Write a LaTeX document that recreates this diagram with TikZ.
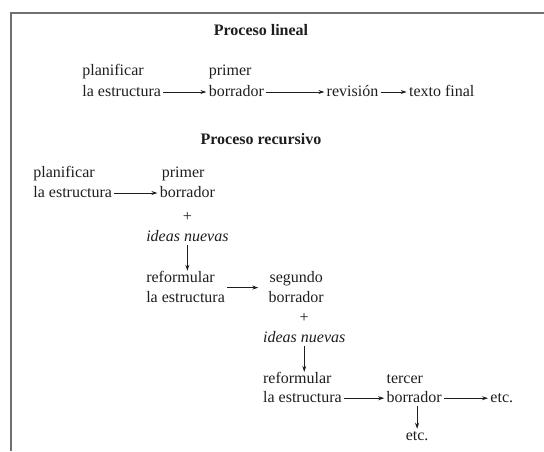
\documentclass[tikz,border=0pt]{standalone}
\usepackage{fontspec}
\setmainfont{Liberation Serif}
\usetikzlibrary{positioning,arrows.meta}
\definecolor{inkgray}{HTML}{1E1E1E}
\definecolor{framegray}{HTML}{707070}
\begin{document}
\begin{tikzpicture}[x=1pt, y=1pt, >={Stealth[length=6pt,width=4pt]}, line width=0.8pt, draw=inkgray]
        \tikzstyle{word}=[inner xsep=2pt, inner ysep=0pt, text height=11.2pt, text depth=3.2pt, text=inkgray, font=\fontsize{16}{19}\selectfont];
        \tikzstyle{heading}=[word, font=\fontsize{16}{19}\selectfont\bfseries];
        \tikzstyle{idea}=[word, font=\fontsize{16}{19}\selectfont\itshape];

        \useasboundingbox (0,0) rectangle (544,-451);
        \draw[framegray, line width=1.5pt] (544,-13) -- (11,-13) -- (11,-451);

        % lineal
        \node[heading] (titlelin) at (261,-31) {Proceso lineal};
        \node[word, anchor=west] (est1) at (80,-92) {la estructura};
        \node[word, above=5.6pt of est1.north west, anchor=south west] (plan1) {planificar};
        \node[word, right=43pt of est1] (borr1) {borrador};
        \node[word, above=5.6pt of borr1.north west, anchor=south west] (prim1) {primer};
        \node[word, right=58pt of borr1] (rev) {revisión};
        \node[word, right=26pt of rev] (final) {texto final};

        \draw[->] (est1) -- (borr1);
        \draw[->] (borr1) -- (rev);
        \draw[->] (rev) -- (final);

        % recursivo
        \node[heading] (titlerec) at (261,-140) {Proceso recursivo};
        \node[word, anchor=west] (est2) at (31,-193) {la estructura};
        \node[word, above=4.6pt of est2.north west, anchor=south west] (plan2) {planificar};
        \node[word, right=43pt of est2] (borr2) {borrador};
        \node[word, above=4.6pt of borr2.north west, anchor=south west, xshift=2pt] (prim2) {primer};
        \node[word, below=9.6pt of borr2] (plus1) {+};
        \node[idea, below=4.6pt of plus1] (idea1) {ideas nuevas};
        \node[word, below=25.6pt of idea1.south west, anchor=north west] (ref1) {reformular};
        \node[word, below=4.6pt of ref1.south west, anchor=north west] (est3) {la estructura};
        \node[word, right=39pt of est3] (borr3) {borrador};
        \node[word, above=4.6pt of borr3] (seg) {segundo};
        \node[word, below=5pt of borr3, xshift=8pt] (plus2) {+};
        \node[idea, below=5pt of plus2] (idea2) {ideas nuevas};
        \node[word, below=25.6pt of idea2.south west, anchor=north west] (ref2) {reformular};
        \node[word, below=3.6pt of ref2.south west, anchor=north west] (est4) {la estructura};
        \node[word, right=40pt of est4] (borr4) {borrador};
        \node[word, above=3.6pt of borr4.north west, anchor=south west] (terc) {tercer};
        \node[word, right=44pt of borr4] (etc1) {etc.};
        \node[word, below=23pt of borr4, xshift=3pt] (etc2) {etc.};

        \draw[->] (est2) -- (borr2);
        \draw[->] (idea1) -- (idea1 |- ref1.north);
        \draw[->] ([yshift=3pt]est3.north east) -- ([xshift=-8pt, yshift=3pt]borr3.north west);
        \draw[->] (idea2) -- (idea2 |- ref2.north);
        \draw[->] (est4) -- (borr4);
        \draw[->] (borr4) -- (etc1);
        \draw[->] (etc2 |- borr4.south) -- (etc2);
    \end{tikzpicture}
\end{document}
